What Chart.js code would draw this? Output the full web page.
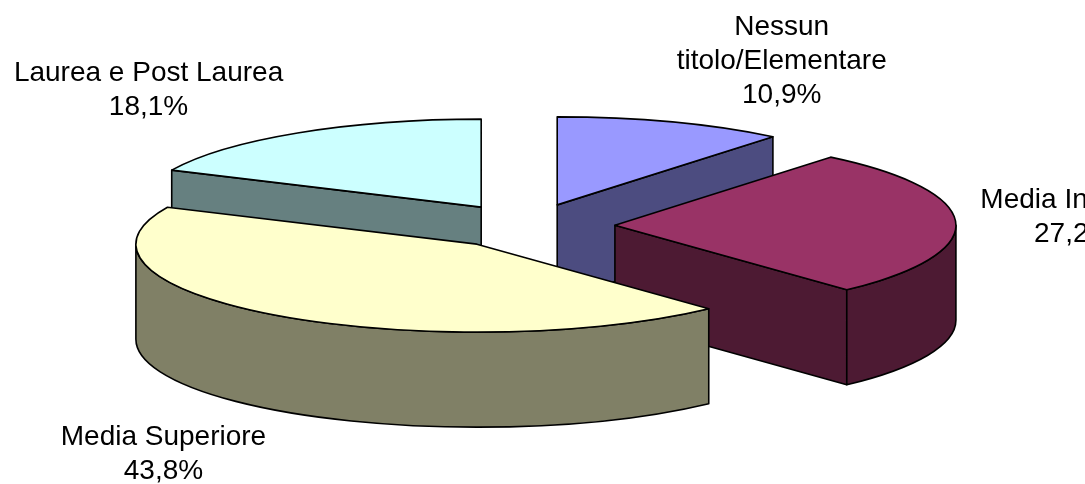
<!DOCTYPE html>
<html lang="it">
<head>
<meta charset="UTF-8">
<title>Titolo di studio</title>
<script src="https://cdn.jsdelivr.net/npm/chart.js"></script>
<style>
  html, body { margin: 0; padding: 0; background: #fff; }
  #wrap { position: relative; width: 1085px; height: 484px; }
</style>
</head>
<body>
<div id="wrap"><canvas id="pie"></canvas></div>
<script>
// categorie (a capo come nel grafico originale) e percentuali
const categories = [['Nessun', 'titolo/Elementare'], ['Media Inferiore'], ['Media Superiore'], ['Laurea e Post Laurea']];
const values = [10.9, 27.2, 43.8, 18.1];
const topColors = ['#9999FF', '#993366', '#FFFFCC', '#CCFFFF'];
const sideColors = ['#4C4C80', '#4D1A33', '#808066', '#668080'];
// spostamento delle etichette rispetto al bordo della fetta
const labelShift = [[110, -61], [118, -5], [-113, 139], [-149, -43]];

// schiacciamento prospettico e spessore della torta
const SX = 1.705, SY = 0.44, DEPTH = 95;

function fmt(v) {
    return v.toFixed(1).replace('.', ',') + '%';
}

function rim(s, t, dy) {
    return [s.cx + s.rx * Math.cos(t), s.cy + s.ry * Math.sin(t) + (dy || 0)];
}

function paint(ctx, fill) {
    ctx.fillStyle = fill;
    ctx.fill();
    ctx.stroke();
}

// disegna la torta 3D usando angoli e raggi calcolati da Chart.js
const pie3d = {
    id: 'pie3d',
    beforeDatasetsDraw(chart) {
        const ctx = chart.ctx;
        const arcs = chart.getDatasetMeta(0).data;
        const slices = arcs.map((a, i) => {
            const mid = (a.startAngle + a.endAngle) / 2;
            const off = a.options.offset || 0;
            return {
                i, a, mid,
                cx: a.x + Math.cos(mid) * off * SX,
                cy: a.y + Math.sin(mid) * off * SY,
                rx: a.outerRadius * SX,
                ry: a.outerRadius * SY
            };
        });

        ctx.save();
        ctx.lineWidth = 1.6;
        ctx.strokeStyle = '#000';
        ctx.lineJoin = 'round';

        const order = slices.slice().sort((p, q) => Math.sin(p.mid) - Math.sin(q.mid));
        order.forEach(s => {
            const a0 = s.a.startAngle, a1 = s.a.endAngle;
            const side = sideColors[s.i];

            const radial = t => {
                const p = rim(s, t), q = rim(s, t, DEPTH);
                ctx.beginPath();
                ctx.moveTo(s.cx, s.cy);
                ctx.lineTo(p[0], p[1]);
                ctx.lineTo(q[0], q[1]);
                ctx.lineTo(s.cx, s.cy + DEPTH);
                ctx.closePath();
                paint(ctx, side);
            };
            if (Math.cos(a0) < -1e-6) radial(a0);
            if (Math.cos(a1) > 1e-6) radial(a1);

            // parete esterna (solo la parte frontale)
            const w0 = Math.max(a0, 0), w1 = Math.min(a1, Math.PI);
            if (w1 > w0) {
                ctx.beginPath();
                ctx.ellipse(s.cx, s.cy, s.rx, s.ry, 0, w0, w1);
                ctx.ellipse(s.cx, s.cy + DEPTH, s.rx, s.ry, 0, w1, w0, true);
                ctx.closePath();
                paint(ctx, side);
            }

            // faccia superiore
            ctx.beginPath();
            ctx.moveTo(s.cx, s.cy);
            ctx.ellipse(s.cx, s.cy, s.rx, s.ry, 0, a0, a1);
            ctx.closePath();
            paint(ctx, topColors[s.i]);
        });

        // etichette
        ctx.fillStyle = '#000';
        ctx.font = '28px "Liberation Sans", Arial, sans-serif';
        ctx.textAlign = 'center';
        ctx.textBaseline = 'middle';
        const lh = 34;
        slices.forEach(s => {
            const lines = chart.data.labels[s.i].concat([fmt(chart.data.datasets[0].data[s.i])]);
            const p = rim(s, s.mid);
            const x = p[0] + labelShift[s.i][0];
            const y0 = p[1] + labelShift[s.i][1] - (lines.length - 1) * lh / 2;
            lines.forEach((t, k) => ctx.fillText(t, x, y0 + k * lh));
        });
        ctx.restore();
        return false;
    }
};

new Chart(document.getElementById('pie'), {
    type: 'pie',
    data: {
        labels: categories,
        datasets: [{
            data: values,
            backgroundColor: topColors,
            borderWidth: 0,
            radius: 200,
            offset: 51
        }]
    },
    options: {
        responsive: true,
        maintainAspectRatio: false,
        animation: false,
        events: [],
        layout: { padding: { left: 0, right: 29, top: 0, bottom: 32 } },
        plugins: {
            legend: { display: false },
            tooltip: { enabled: false }
        }
    },
    plugins: [pie3d]
});
</script>
</body>
</html>
